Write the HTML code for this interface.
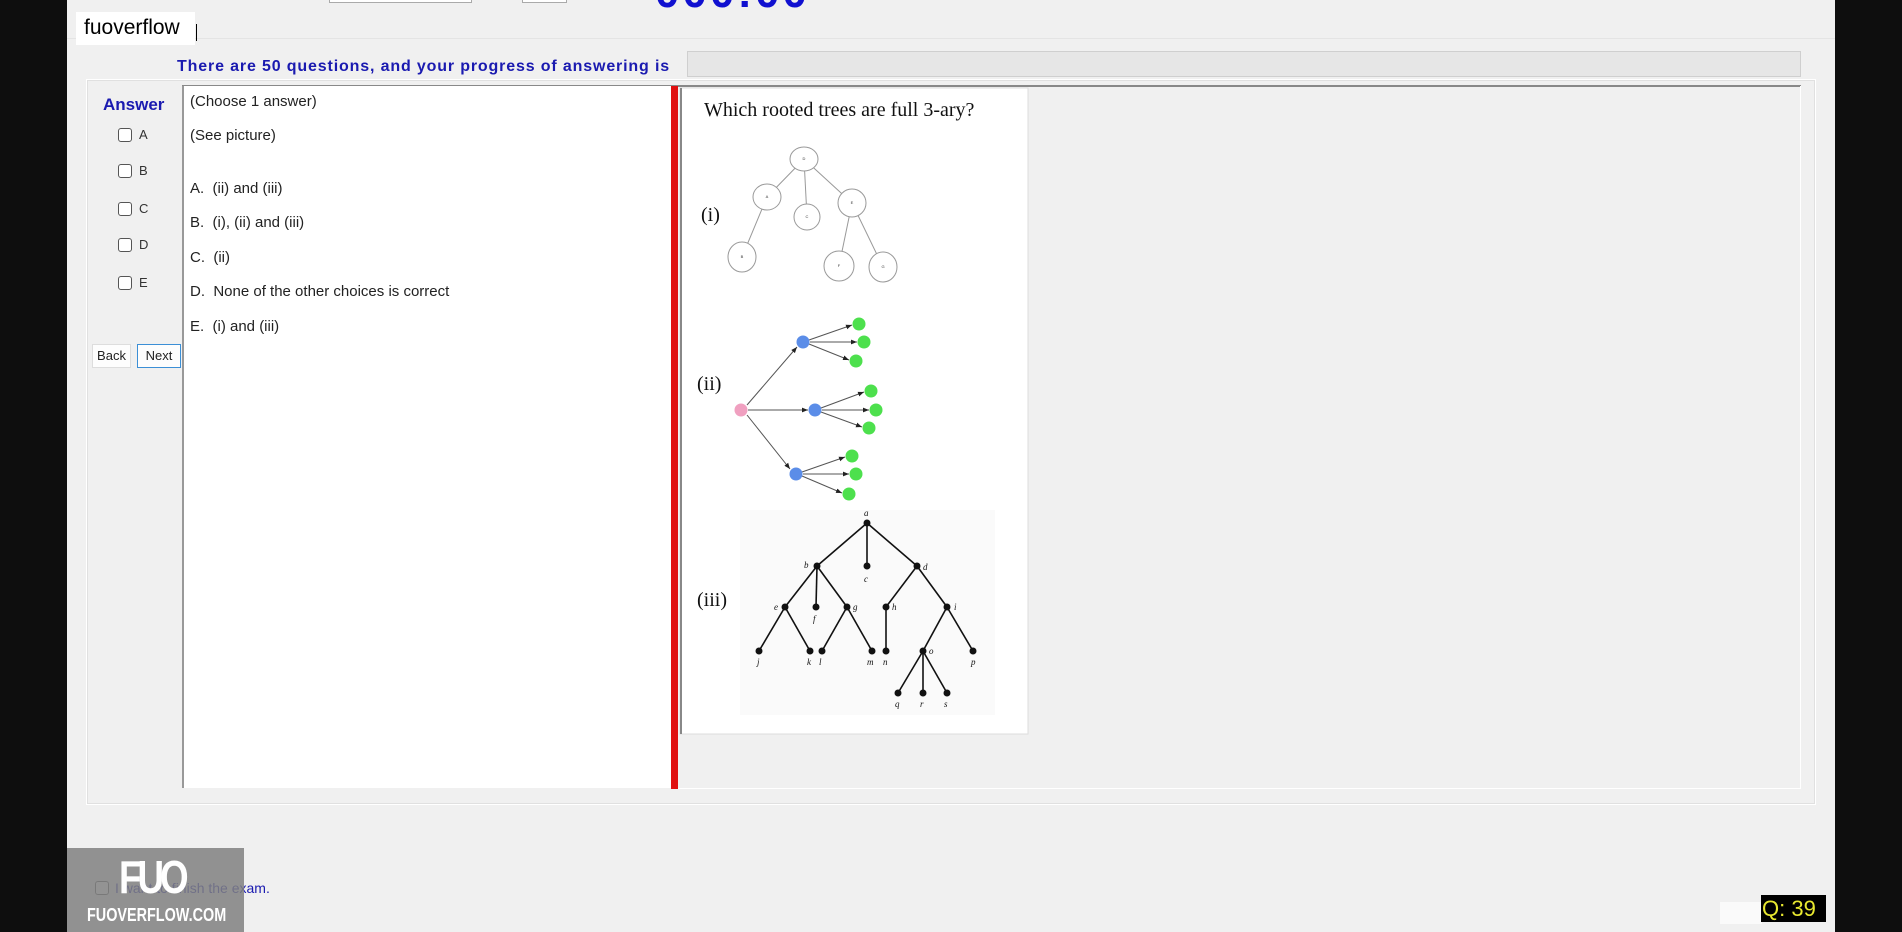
<!DOCTYPE html>
<html><head><meta charset="utf-8"><style>
*{margin:0;padding:0;box-sizing:border-box}
body{width:1902px;height:932px;background:#f0f0f0;position:relative;overflow:hidden;font-family:"Liberation Sans",sans-serif}
.abs{position:absolute}
.opt{position:absolute;left:190px;font-size:15px;color:#222;letter-spacing:0px}
.cb{position:absolute;left:118px;width:14px;height:14px;border:1px solid #555;border-radius:3px;background:#fff}
.cbl{position:absolute;left:139px;font-size:13px;color:#333}
</style></head><body>
<div class="abs" style="left:0;top:0;width:67px;height:932px;background:#0e0e0e"></div>
<div class="abs" style="left:1835px;top:0;width:67px;height:932px;background:#0e0e0e"></div>

<div class="abs" style="left:329px;top:-4px;width:143px;height:7px;border:1px solid #aaa;background:#fff"></div>
<div class="abs" style="left:522px;top:-4px;width:45px;height:7px;border:1px solid #aaa;background:#fff"></div>
<div class="abs" style="left:655px;top:-32px;font-size:44px;font-weight:bold;color:#1010d0;letter-spacing:3px">000:00</div>
<div class="abs" style="left:67px;top:38px;width:1768px;height:1px;background:#e4e4e4"></div>

<div class="abs" style="left:76px;top:12px;width:119px;height:33px;background:#fff;font-size:21px;color:#000;padding:4px 0 0 8px">fuoverflow</div>
<div class="abs" style="left:196px;top:24px;width:1px;height:17px;background:#000"></div>

<div class="abs" style="left:177px;top:58px;font-size:16px;font-weight:bold;color:#1a1ab0;letter-spacing:0.85px">There are 50 questions, and your progress of answering is</div>
<div class="abs" style="left:687px;top:51px;width:1114px;height:26px;background:#e6e6e6;border:1px solid #cfcfcf"></div>

<div class="abs" style="left:86px;top:79px;width:1730px;height:726px;border:1px solid #fff;box-shadow:inset 0 0 0 1px #e0e0e0"></div>
<div class="abs" style="left:182px;top:85px;width:1619px;height:2px;background:#888"></div>
<div class="abs" style="left:678px;top:86px;width:1123px;height:703px;border-right:1px solid #fff;border-bottom:1px solid #fff"></div>

<div class="abs" style="left:103px;top:95px;font-size:17px;font-weight:bold;color:#1a1ab0">Answer</div>
<div class="cb" style="top:128px"></div><div class="cbl" style="top:127px">A</div>
<div class="cb" style="top:164px"></div><div class="cbl" style="top:163px">B</div>
<div class="cb" style="top:202px"></div><div class="cbl" style="top:201px">C</div>
<div class="cb" style="top:238px"></div><div class="cbl" style="top:237px">D</div>
<div class="cb" style="top:276px"></div><div class="cbl" style="top:275px">E</div>

<div class="abs" style="left:92px;top:344px;width:39px;height:24px;background:#fdfdfd;border:1px solid #ddd;font-size:13px;text-align:center;line-height:22px;color:#222">Back</div>
<div class="abs" style="left:137px;top:344px;width:44px;height:24px;background:#fdfdfd;border:1px solid #3b8fd6;font-size:13px;text-align:center;line-height:22px;color:#222">Next</div>

<div class="abs" style="left:182px;top:86px;width:490px;height:702px;background:#fff;border-left:2px solid #999"></div>
<div class="abs" style="left:671px;top:86px;width:7px;height:703px;background:#e01010"></div>
<div class="opt" style="top:93px">(Choose 1 answer)</div>
<div class="opt" style="top:127px">(See picture)</div>
<div class="opt" style="top:180px">A.&nbsp; (ii) and (iii)</div>
<div class="opt" style="top:214px">B.&nbsp; (i), (ii) and (iii)</div>
<div class="opt" style="top:249px">C.&nbsp; (ii)</div>
<div class="opt" style="top:283px">D.&nbsp; None of the other choices is correct</div>
<div class="opt" style="top:318px">E.&nbsp; (i) and (iii)</div>

<svg class="abs" style="left:0;top:0" width="1902" height="932">
<defs><marker id="ar" viewBox="0 0 10 10" refX="10" refY="5" markerWidth="6" markerHeight="6" orient="auto"><path d="M0,1L10,5L0,9z" fill="#222"/></marker></defs>
<rect x="680" y="88" width="348" height="646" fill="#fff" stroke="#ddd"/>
<rect x="680" y="88" width="2" height="646" fill="#888"/>
<text x="704" y="116" font-family="Liberation Serif,serif" font-size="20" fill="#111">Which rooted trees are full 3-ary?</text>
<g font-family="Liberation Serif,serif" font-size="20" fill="#111">
<text x="701" y="221">(i)</text><text x="697" y="390">(ii)</text><text x="697" y="606">(iii)</text></g>
<g stroke="#999" stroke-width="1" fill="none">
<line x1="804" y1="159" x2="767" y2="197"/><line x1="804" y1="159" x2="807" y2="217"/><line x1="804" y1="159" x2="852" y2="203"/>
<line x1="767" y1="197" x2="742" y2="257"/><line x1="852" y1="203" x2="839" y2="266"/><line x1="852" y1="203" x2="883" y2="267"/></g>
<g stroke="#999" fill="#fff">
<ellipse cx="804" cy="159" rx="14" ry="12"/>
<ellipse cx="767" cy="197" rx="14" ry="13"/>
<ellipse cx="807" cy="217" rx="13" ry="13"/>
<ellipse cx="852" cy="203" rx="14" ry="14"/>
<ellipse cx="742" cy="257" rx="14" ry="15"/>
<ellipse cx="839" cy="266" rx="15" ry="15"/>
<ellipse cx="883" cy="267" rx="14" ry="15"/></g>
<g fill="#333" font-size="4" text-anchor="middle"><text x="804" y="160">D</text><text x="767" y="198">A</text><text x="807" y="218">C</text><text x="852" y="204">E</text><text x="742" y="258">B</text><text x="839" y="267">F</text><text x="883" y="268">G</text></g>
<g stroke="#555" stroke-width="1" marker-end="url(#ar)">
<line x1="747" y1="405" x2="797" y2="347"/><line x1="748" y1="410" x2="808" y2="410"/><line x1="747" y1="415" x2="790" y2="469"/>
<line x1="809" y1="340" x2="852" y2="325"/><line x1="810" y1="342" x2="857" y2="342"/><line x1="809" y1="344" x2="849" y2="360"/>
<line x1="821" y1="408" x2="864" y2="392"/><line x1="822" y1="410" x2="869" y2="410"/><line x1="821" y1="412" x2="862" y2="427"/>
<line x1="802" y1="472" x2="845" y2="457"/><line x1="803" y1="474" x2="849" y2="474"/><line x1="802" y1="476" x2="842" y2="493"/></g>
<circle cx="741" cy="410" r="6.5" fill="#f0a0c0"/>
<g fill="#5b8de8"><circle cx="803" cy="342" r="6.5"/><circle cx="815" cy="410" r="6.5"/><circle cx="796" cy="474" r="6.5"/></g>
<g fill="#4de04d"><circle cx="859" cy="324" r="6.5"/><circle cx="864" cy="342" r="6.5"/><circle cx="856" cy="361" r="6.5"/>
<circle cx="871" cy="391" r="6.5"/><circle cx="876" cy="410" r="6.5"/><circle cx="869" cy="428" r="6.5"/>
<circle cx="852" cy="456" r="6.5"/><circle cx="856" cy="474" r="6.5"/><circle cx="849" cy="494" r="6.5"/></g>
<rect x="740" y="510" width="255" height="205" fill="#fafafa"/>
<g stroke="#111" stroke-width="1.6">
<line x1="867" y1="523" x2="817" y2="566"/><line x1="867" y1="523" x2="867" y2="566"/><line x1="867" y1="523" x2="917" y2="566"/>
<line x1="817" y1="566" x2="785" y2="607"/><line x1="817" y1="566" x2="816" y2="607"/><line x1="817" y1="566" x2="847" y2="607"/>
<line x1="917" y1="566" x2="886" y2="607"/><line x1="917" y1="566" x2="947" y2="607"/>
<line x1="785" y1="607" x2="759" y2="651"/><line x1="785" y1="607" x2="810" y2="651"/>
<line x1="847" y1="607" x2="822" y2="651"/><line x1="847" y1="607" x2="872" y2="651"/>
<line x1="886" y1="607" x2="886" y2="651"/><line x1="947" y1="607" x2="923" y2="651"/><line x1="947" y1="607" x2="973" y2="651"/>
<line x1="923" y1="651" x2="898" y2="693"/><line x1="923" y1="651" x2="923" y2="693"/><line x1="923" y1="651" x2="947" y2="693"/></g>
<g fill="#111">
<circle cx="867" cy="523" r="3.5"/><circle cx="817" cy="566" r="3.5"/><circle cx="867" cy="566" r="3.5"/><circle cx="917" cy="566" r="3.5"/>
<circle cx="785" cy="607" r="3.5"/><circle cx="816" cy="607" r="3.5"/><circle cx="847" cy="607" r="3.5"/><circle cx="886" cy="607" r="3.5"/><circle cx="947" cy="607" r="3.5"/>
<circle cx="759" cy="651" r="3.5"/><circle cx="810" cy="651" r="3.5"/><circle cx="822" cy="651" r="3.5"/><circle cx="872" cy="651" r="3.5"/><circle cx="886" cy="651" r="3.5"/><circle cx="923" cy="651" r="3.5"/><circle cx="973" cy="651" r="3.5"/>
<circle cx="898" cy="693" r="3.5"/><circle cx="923" cy="693" r="3.5"/><circle cx="947" cy="693" r="3.5"/></g>
<g font-family="Liberation Serif,serif" font-style="italic" font-size="9" fill="#111">
<text x="864" y="516">a</text><text x="804" y="568">b</text><text x="864" y="582">c</text><text x="923" y="570">d</text>
<text x="774" y="610">e</text><text x="813" y="622">f</text><text x="853" y="610">g</text><text x="892" y="610">h</text><text x="954" y="610">i</text>
<text x="757" y="665">j</text><text x="807" y="665">k</text><text x="819" y="665">l</text><text x="867" y="665">m</text><text x="883" y="665">n</text><text x="929" y="654">o</text><text x="971" y="665">p</text>
<text x="895" y="707">q</text><text x="920" y="707">r</text><text x="944" y="707">s</text></g>
</svg>

<div class="abs" style="left:95px;top:881px;width:14px;height:14px;border:1px solid #555;border-radius:3px;background:#fff"></div>
<div class="abs" style="left:115px;top:880px;font-size:14px;color:#1a1ab0">I want to finish the exam.</div>
<div class="abs" style="left:67px;top:848px;width:177px;height:84px;background:rgba(128,128,128,0.85)">
<div style="position:absolute;left:52px;top:2px;font-size:46px;font-weight:bold;color:#fff;letter-spacing:-5px;transform:scaleX(0.8);transform-origin:left">FUO</div>
<div style="position:absolute;left:20px;top:57px;font-size:18px;font-weight:bold;color:#fff;transform:scaleX(0.8);transform-origin:left;white-space:nowrap">FUOVERFLOW.COM</div></div>
<div class="abs" style="left:1720px;top:902px;width:42px;height:22px;background:#fafafa"></div>
<div class="abs" style="left:1761px;top:895px;width:65px;height:27px;background:#000;color:#e8e830;font-family:'Liberation Sans',sans-serif;font-size:22px;line-height:27px;padding-left:1px;white-space:nowrap;overflow:hidden">Q: 39</div>
</body></html>
